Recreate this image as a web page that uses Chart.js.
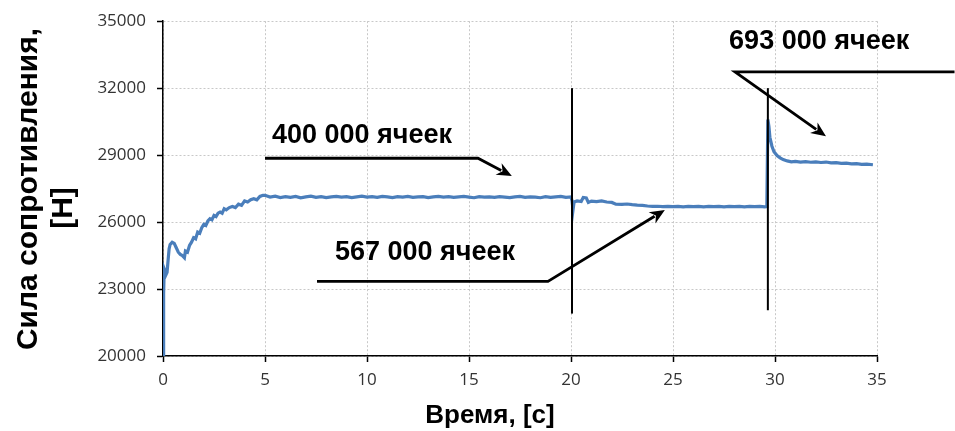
<!DOCTYPE html>
<html>
<head>
<meta charset="utf-8">
<script src="https://cdn.jsdelivr.net/npm/chart.js@4/dist/chart.umd.min.js"></script>
<style>
html,body{margin:0;padding:0;background:#fff;}
#wrap{width:955px;height:431px;position:relative;}
</style>
</head>
<body>
<div id="wrap"><canvas id="c" width="955" height="431"></canvas></div>
<script>
// ---- data ----
const timeSec = [
  0, 0.03, 0.06, 0.1, 0.15, 0.2, 0.25, 0.3, 0.35, 0.45, 0.55, 0.65, 0.75, 0.85, 0.95, 1.05, 1.1, 1.2, 1.3, 1.4,
  1.5, 1.6, 1.7, 1.8, 1.9, 2.0, 2.1, 2.2, 2.3, 2.4, 2.5, 2.6, 2.7, 2.8, 2.9, 3.0, 3.1, 3.25, 3.4, 3.55,
  3.7, 3.85, 4.0, 4.15, 4.3, 4.45, 4.6, 4.75, 4.9,
  5.0, 5.25, 5.5, 5.75, 6.0, 6.25, 6.5, 6.75, 7.0, 7.25, 7.5, 7.75, 8.0, 8.25, 8.5, 8.75, 9.0, 9.25, 9.5, 9.75,
  10.0, 10.25, 10.5, 10.75, 11.0, 11.25, 11.5, 11.75, 12.0, 12.25, 12.5, 12.75, 13.0, 13.25, 13.5, 13.75, 14.0, 14.25, 14.5, 14.75,
  15.0, 15.25, 15.5, 15.75, 16.0, 16.25, 16.5, 16.75, 17.0, 17.25, 17.5, 17.75, 18.0, 18.25, 18.5, 18.75, 19.0, 19.25, 19.5, 19.75,
  20.0, 20.05, 20.1, 20.15, 20.3, 20.5, 20.6, 20.75, 20.85, 21.0, 21.25, 21.5, 21.75, 22.0, 22.2, 22.5, 22.75, 23.0, 23.25, 23.5,
  23.75, 24.0, 24.25, 24.5, 24.75, 25.0, 25.25, 25.5, 25.75, 26.0, 26.25, 26.5, 26.75, 27.0, 27.25, 27.5, 27.75, 28.0, 28.25, 28.5,
  28.75, 29.0, 29.25, 29.5, 29.6, 29.65, 29.7, 29.75, 29.85, 29.95, 30.1, 30.25, 30.4, 30.6, 30.8, 31.0, 31.25, 31.5, 31.75, 32.0,
  32.25, 32.5, 32.75, 33.0, 33.25, 33.5, 33.75, 34.0, 34.25, 34.5, 34.8
];
const forceN = [
  20000, 22800, 23900, 23800, 23650, 23750, 24300, 24800, 25000, 25100, 25050, 24850, 24650, 24550, 24500, 24400, 24700, 24650, 24950, 25100,
  25300, 25250, 25550, 25500, 25750, 25900, 25850, 26050, 26150, 26100, 26300, 26250, 26400, 26450, 26400, 26600, 26550, 26650, 26700, 26650,
  26800, 26750, 26950, 26900, 27000, 27050, 27000, 27150, 27200,
  27200, 27120, 27160, 27100, 27140, 27110, 27150, 27090, 27130, 27160, 27110, 27140, 27100, 27130, 27150, 27120, 27140, 27100, 27130, 27160,
  27120, 27140, 27110, 27150, 27130, 27100, 27140, 27120, 27150, 27110, 27130, 27140, 27100, 27130, 27150, 27120, 27140, 27110, 27130, 27150,
  27120, 27090, 27140, 27120, 27130, 27110, 27140, 27120, 27100, 27130, 27150, 27110, 27130, 27120, 27090, 27140, 27110, 27130, 27150, 27110,
  27130, 26950, 26550, 26900, 26950, 26920, 27100, 27080, 26880, 26940, 26920, 26950, 26900, 26880, 26800, 26790, 26810, 26780, 26760, 26750,
  26720, 26700, 26710, 26690, 26700, 26690, 26700, 26680, 26700, 26690, 26700, 26680, 26700, 26690, 26700, 26680, 26700, 26690, 26700, 26680,
  26700, 26690, 26700, 26680, 26690, 30600, 30300, 29800, 29400, 29150, 28980, 28880, 28800, 28740, 28700, 28720, 28690, 28710, 28680, 28700,
  28670, 28690, 28650, 28660, 28630, 28640, 28610, 28620, 28590, 28600, 28570
];
const xTickMin = 0, xTickMax = 35, xTickStep = 5;
const yTickMin = 20000, yTickMax = 35000, yTickStep = 3000;
const xTitle = 'Время, [c]';
const yTitleLines = ['Сила сопротивления,', '[Н]'];

// annotation labels (data coords: time, force at text baseline-left)
const noteTexts = ['400 000 ячеек', '567 000 ячеек', '693 000 ячеек'];
const noteTextT = [5.34, 8.43, 27.75];
const noteTextF = [29525, 24280, 33754];
// annotation leader lines (data coords), last point is arrow tip
const leaderT = [[5.0, 15.44, 17.1], [7.55, 18.87, 24.6], [38.8, 28.04, 32.5]];
const leaderF = [[28860, 28860, 28060], [23340, 23340, 26540], [32730, 32730, 29840]];
// vertical markers where the mesh changes
const markerT = [20.05, 29.65];
const markerFTop = [32000, 32000];
const markerFBottom = [21900, 22050];

const points = timeSec.map((t, i) => ({x: t, y: forceN[i]}));

const annotationPlugin = {
  id: 'notes',
  afterDraw(chart) {
    const {ctx, scales: {x, y}} = chart;
    const px = t => x.getPixelForValue(t);
    const py = f => y.getPixelForValue(f);
    ctx.save();
    ctx.strokeStyle = '#000';
    ctx.fillStyle = '#000';
    ctx.lineCap = 'butt';
    ctx.lineJoin = 'miter';
    // vertical markers
    ctx.lineWidth = 2;
    markerT.forEach((t, i) => {
      ctx.beginPath();
      ctx.moveTo(px(t), py(markerFTop[i]));
      ctx.lineTo(px(t), py(markerFBottom[i]));
      ctx.stroke();
    });
    // leaders with arrows
    ctx.lineWidth = 2.8;
    leaderT.forEach((ts, i) => {
      const fs = leaderF[i];
      const pts = ts.map((t, k) => [px(t), py(fs[k])]);
      const n = pts.length;
      const tip = pts[n - 1], prev = pts[n - 2];
      const ang = Math.atan2(tip[1] - prev[1], tip[0] - prev[0]);
      const L = 15, W = 6.5;
      const base = [tip[0] - Math.cos(ang) * L * 0.8, tip[1] - Math.sin(ang) * L * 0.8];
      ctx.beginPath();
      ctx.moveTo(pts[0][0], pts[0][1]);
      for (let k = 1; k < n - 1; k++) ctx.lineTo(pts[k][0], pts[k][1]);
      ctx.lineTo(base[0], base[1]);
      ctx.stroke();
      const bx = tip[0] - Math.cos(ang) * L, by = tip[1] - Math.sin(ang) * L;
      ctx.beginPath();
      ctx.moveTo(tip[0], tip[1]);
      ctx.lineTo(bx + Math.sin(ang) * W, by - Math.cos(ang) * W);
      ctx.lineTo(tip[0] - Math.cos(ang) * L * 0.7, tip[1] - Math.sin(ang) * L * 0.7);
      ctx.lineTo(bx - Math.sin(ang) * W, by + Math.cos(ang) * W);
      ctx.closePath();
      ctx.fill();
    });
    // note texts
    ctx.font = 'bold 27px "Liberation Sans", Arial, sans-serif';
    ctx.textAlign = 'left';
    ctx.textBaseline = 'alphabetic';
    noteTexts.forEach((s, i) => ctx.fillText(s, px(noteTextT[i]), py(noteTextF[i])));
    // axis titles
    ctx.font = 'bold 26px "Liberation Sans", Arial, sans-serif';
    ctx.textAlign = 'center';
    ctx.fillText(xTitle, 490, 423);
    ctx.font = 'bold 30px "Liberation Sans", Arial, sans-serif';
    ctx.textBaseline = 'alphabetic';
    ctx.save();
    ctx.translate(37, 189);
    ctx.rotate(-Math.PI / 2);
    ctx.fillText(yTitleLines[0], 0, 0);
    ctx.restore();
    ctx.save();
    ctx.translate(72, 208);
    ctx.rotate(-Math.PI / 2);
    ctx.fillText(yTitleLines[1], 0, 0);
    ctx.restore();
    ctx.restore();
  }
};

new Chart(document.getElementById('c'), {
  type: 'line',
  data: {
    datasets: [{
      data: points,
      borderColor: '#4A7EBB',
      borderWidth: 3.2,
      pointRadius: 0,
      tension: 0,
      fill: false
    }]
  },
  options: {
    responsive: false,
    animation: false,
    events: [],
    layout: {padding: {left: 0, right: 78, top: 19, bottom: 0}},
    plugins: {legend: {display: false}, tooltip: {enabled: false}, title: {display: false}},
    scales: {
      x: {
        type: 'linear', min: xTickMin, max: xTickMax,
        afterFit(s) { s.height = 75; },
        ticks: {stepSize: xTickStep, color: '#333333', padding: 8,
          callback: v => String(v),
          font: {family: '"Open Sans", sans-serif', size: 17}},
        grid: {color: '#c8c8c8', lineWidth: 1, tickLength: 6, tickColor: '#000', tickWidth: 1.5, tickBorderDash: []},
        border: {color: '#000', width: 1.5, dash: [2, 2]}
      },
      y: {
        type: 'linear', min: yTickMin, max: yTickMax,
        afterFit(s) { s.width = 163; },
        ticks: {stepSize: yTickStep, color: '#333333', padding: 11,
          callback: v => String(v),
          font: {family: '"Open Sans", sans-serif', size: 17}},
        grid: {color: '#c8c8c8', lineWidth: 1, tickLength: 6, tickColor: '#000', tickWidth: 1.5, tickBorderDash: []},
        border: {color: '#000', width: 1.5, dash: [2, 2]}
      }
    }
  },
  plugins: [annotationPlugin]
});
</script>
</body>
</html>
